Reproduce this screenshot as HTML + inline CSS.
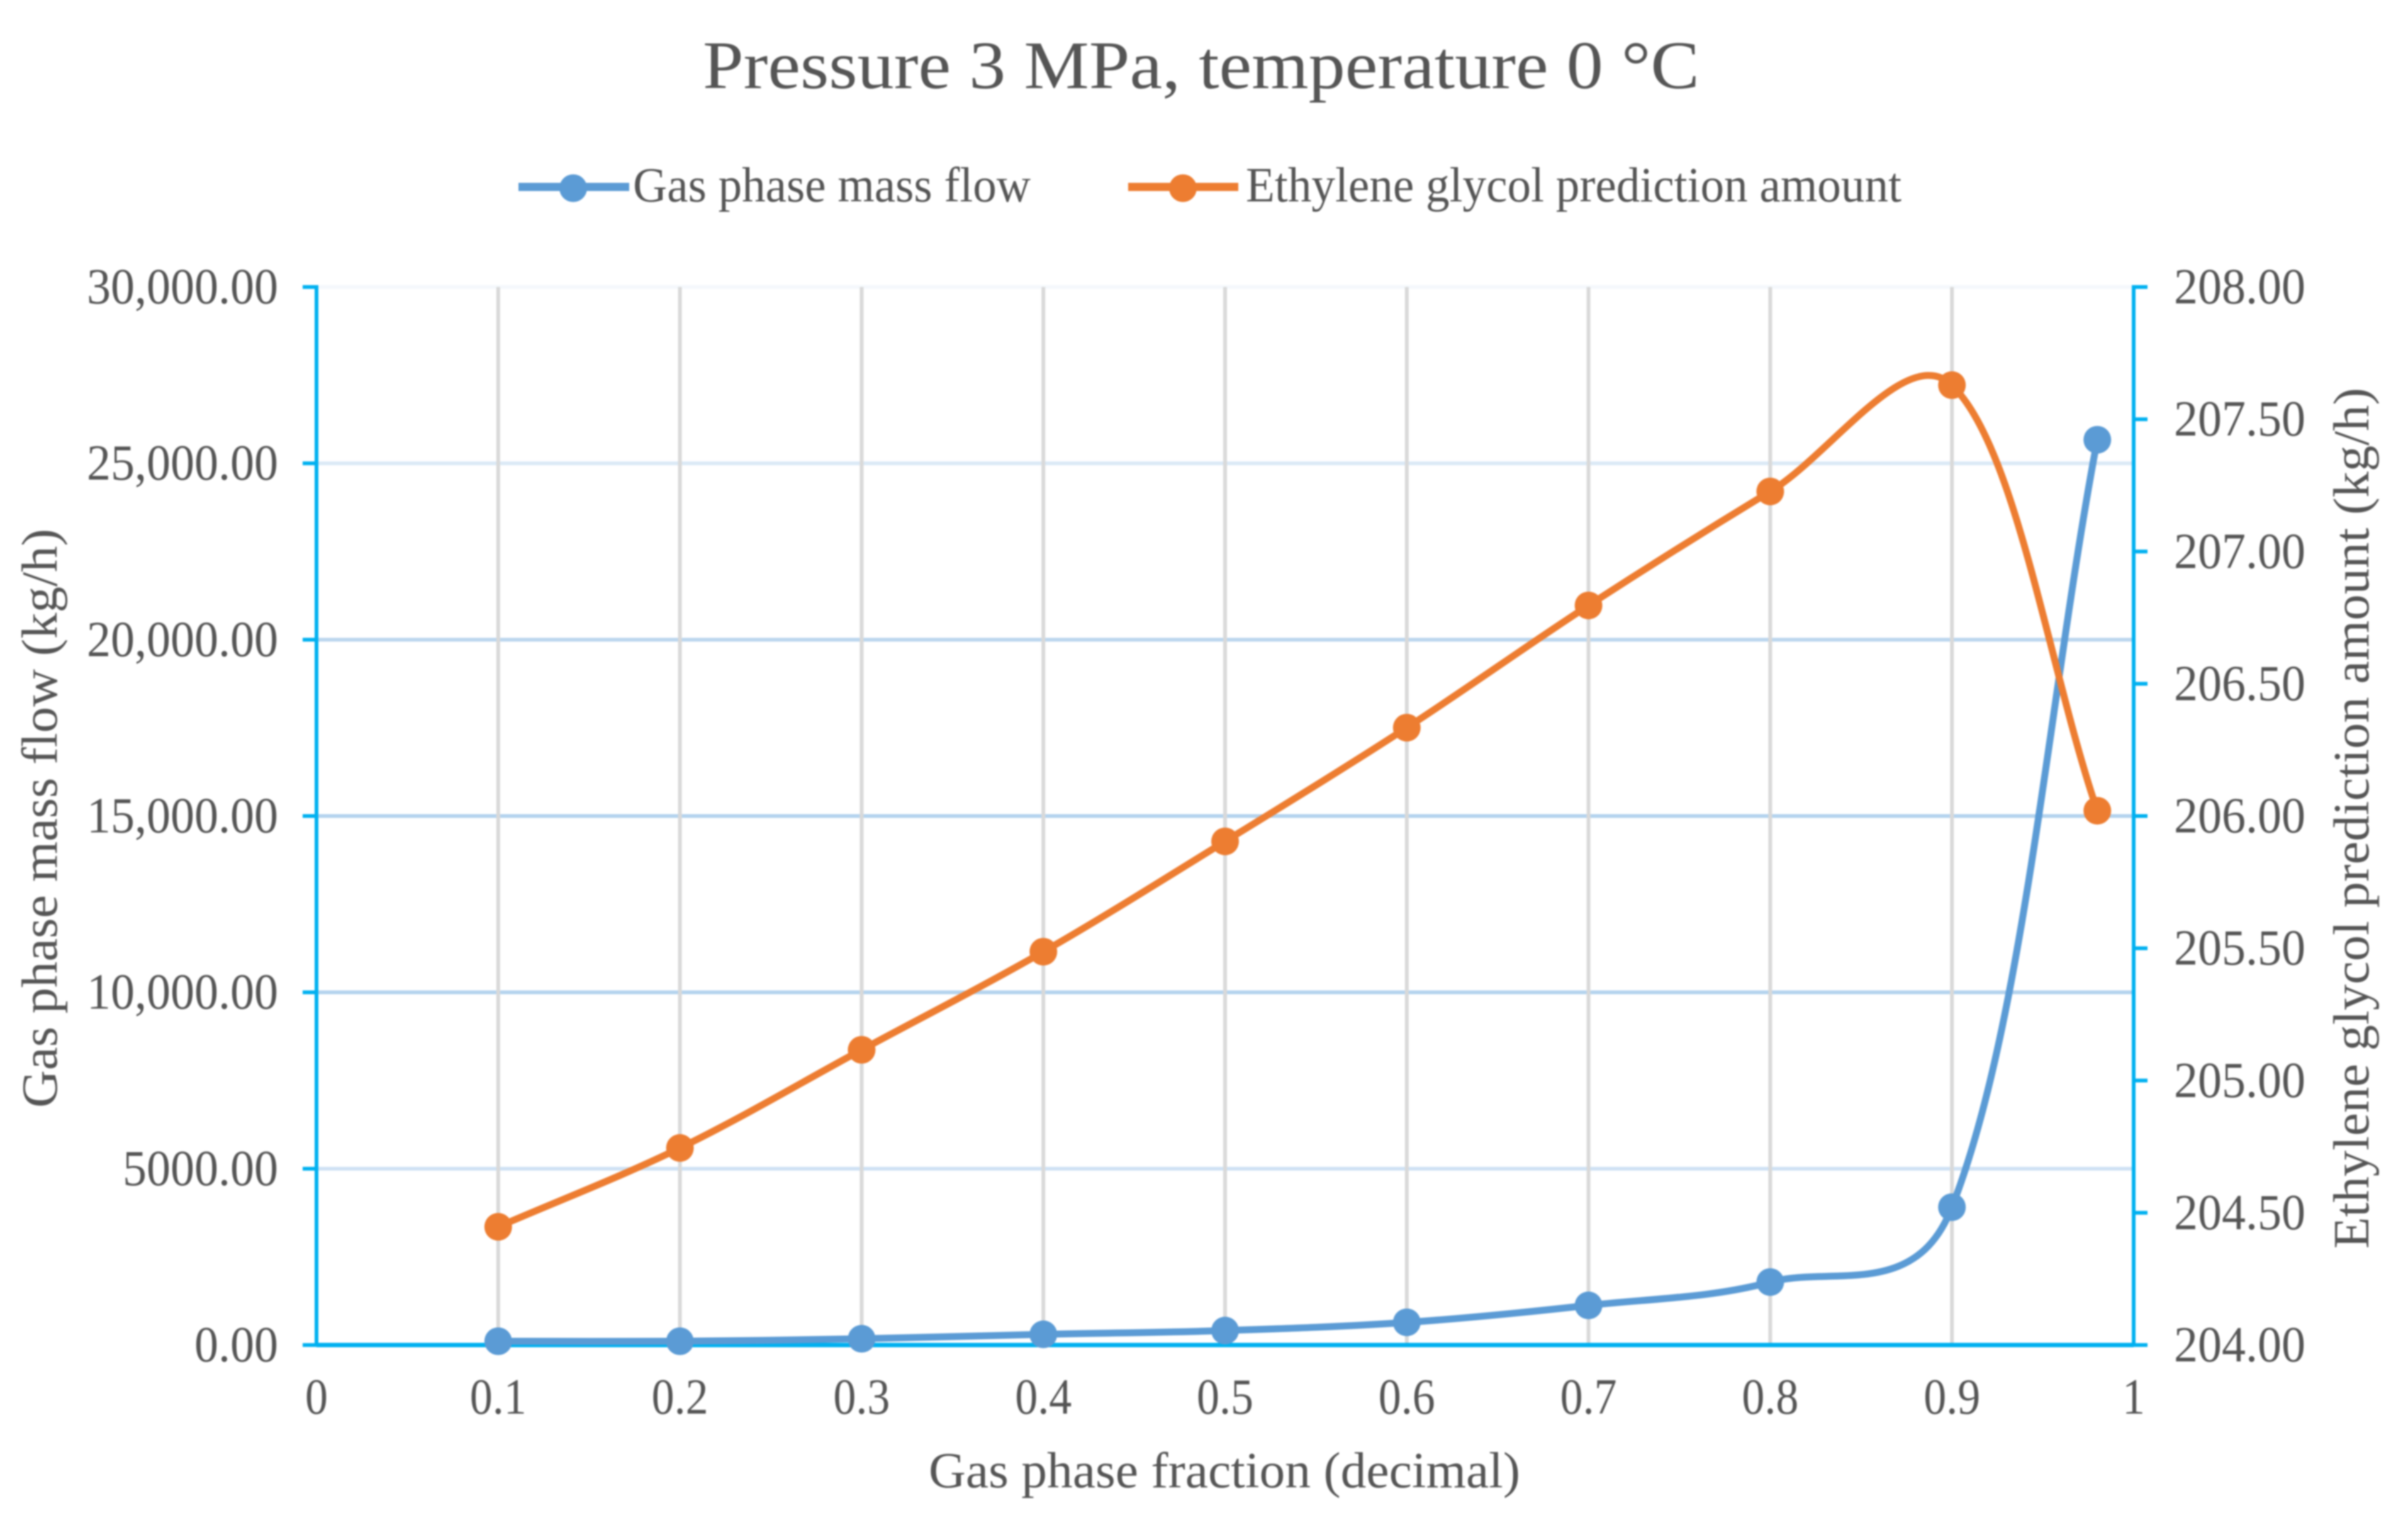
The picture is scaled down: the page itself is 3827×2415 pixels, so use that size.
<!DOCTYPE html>
<html lang="en">
<head>
<meta charset="utf-8">
<title>Pressure 3 MPa, temperature 0 °C</title>
<style>
  html, body { margin: 0; padding: 0; background: #ffffff; }
  svg { display: block; filter: blur(1.4px); }
  text { font-family: "Liberation Serif", serif; fill: #555555; }
</style>
</head>
<body>
<svg id="chart" xmlns="http://www.w3.org/2000/svg" width="3827" height="2415" viewBox="0 0 3827 2415">
  <rect x="0" y="0" width="3827" height="2415" fill="#ffffff"/>
  <text x="1117" y="140" font-size="108" textLength="1584" lengthAdjust="spacingAndGlyphs">Pressure 3 MPa, temperature 0 °C</text>

  <g>
    <g>
      <line x1="824" y1="297" x2="1000" y2="297" stroke="#5b9bd5" stroke-width="13"/>
      <circle cx="911" cy="299" r="22" fill="#5b9bd5"/>
      <text x="1006" y="320" font-size="78" textLength="632" lengthAdjust="spacingAndGlyphs">Gas phase mass flow</text>
    </g>
    <g>
      <line x1="1793" y1="297" x2="1968" y2="297" stroke="#ed7d31" stroke-width="13"/>
      <circle cx="1880" cy="299" r="22" fill="#ed7d31"/>
      <text x="1980" y="320" font-size="78" textLength="1042" lengthAdjust="spacingAndGlyphs">Ethylene glycol prediction amount</text>
    </g>
  </g>

  <g id="grid"></g>
  <g id="axes"></g>
  <g id="series"></g>
  <g id="labels"></g>

  <text x="1476" y="2363" font-size="80" textLength="940" lengthAdjust="spacingAndGlyphs">Gas phase fraction (decimal)</text>
  <text transform="rotate(-90 90 1760)" x="90" y="1760" font-size="80" textLength="920" lengthAdjust="spacingAndGlyphs">Gas phase mass flow (kg/h)</text>
  <text transform="rotate(-90 3764 1984)" x="3764" y="1984" font-size="80" textLength="1368" lengthAdjust="spacingAndGlyphs">Ethylene glycol prediction amount (kg/h)</text>
</svg>

<script>
const fractions = [0.1, 0.2, 0.3, 0.4, 0.5, 0.6, 0.7, 0.8, 0.9, 0.98];
const gasFlow = [107, 107, 178, 303, 410, 643, 1124, 1785, 3909, 25668];
const glycolAmount = [204.447, 204.745, 205.116, 205.487, 205.904, 206.334, 206.796, 207.227, 207.629, 206.02];

const xTicks = [0, 0.1, 0.2, 0.3, 0.4, 0.5, 0.6, 0.7, 0.8, 0.9, 1];
const xTickLabels = ["0", "0.1", "0.2", "0.3", "0.4", "0.5", "0.6", "0.7", "0.8", "0.9", "1"];
const leftTicks = [0, 5000, 10000, 15000, 20000, 25000, 30000];
const leftTickLabels = ["0.00", "5000.00", "10,000.00", "15,000.00", "20,000.00", "25,000.00", "30,000.00"];
const rightTicks = [204, 204.5, 205, 205.5, 206, 206.5, 207, 207.5, 208];
const rightTickLabels = ["204.00", "204.50", "205.00", "205.50", "206.00", "206.50", "207.00", "207.50", "208.00"];

const plot = { left: 503, right: 3391, top: 456, bottom: 2137 };
const NS = "http://www.w3.org/2000/svg";

function xPos(v) { return plot.left + (v - 0) / (1 - 0) * (plot.right - plot.left); }
function yLeft(v) { return plot.bottom - (v - 0) / (30000 - 0) * (plot.bottom - plot.top); }
function yRight(v) { return plot.bottom - (v - 204) / (208 - 204) * (plot.bottom - plot.top); }

function make(tag, parent, attrs) {
  const el = document.createElementNS(NS, tag);
  for (const k in attrs) el.setAttribute(k, attrs[k]);
  parent.appendChild(el);
  return el;
}

function squeeze(el, factor) {
  const w = el.getComputedTextLength();
  el.setAttribute("textLength", (w * factor).toFixed(1));
  el.setAttribute("lengthAdjust", "spacingAndGlyphs");
}

/* Smoothed path through points, spreading tangents by root segment length */
function smoothPath(pts) {
  const dist = (a, b) => Math.sqrt(Math.hypot(b[0] - a[0], b[1] - a[1]));
  const tangents = pts.map((p, i) => {
    const prev = pts[Math.max(i - 1, 0)], next = pts[Math.min(i + 1, pts.length - 1)];
    const d1 = i > 0 ? dist(prev, p) : 0, d2 = i < pts.length - 1 ? dist(p, next) : 0;
    return { vx: next[0] - prev[0], vy: next[1] - prev[1], before: d1 / (d1 + d2), after: d2 / (d1 + d2) };
  });
  let d = "M" + pts[0][0].toFixed(1) + " " + pts[0][1].toFixed(1);
  for (let i = 0; i < pts.length - 1; i++) {
    const a = pts[i], b = pts[i + 1], ta = tangents[i], tb = tangents[i + 1];
    const c1x = a[0] + ta.vx * ta.after / 3, c1y = a[1] + ta.vy * ta.after / 3;
    const c2x = b[0] - tb.vx * tb.before / 3, c2y = b[1] - tb.vy * tb.before / 3;
    d += " C" + c1x.toFixed(1) + " " + c1y.toFixed(1) + " " + c2x.toFixed(1) + " " + c2y.toFixed(1) + " " + b[0].toFixed(1) + " " + b[1].toFixed(1);
  }
  return d;
}

const gridG = document.getElementById("grid");
const axesG = document.getElementById("axes");
const seriesG = document.getElementById("series");
const labelsG = document.getElementById("labels");

function gridTint(i, n) {
  const fromTop = n - 1 - i;
  if (fromTop === 0) return "#f4f8fc";
  if (fromTop === 1) return "#dbe9f6";
  if (fromTop === 2) return "#bbd6ee";
  if (i === 1) return "#cfe2f4";
  return "#b4d3ee";
}

/* horizontal gridlines and left ticks */
leftTicks.forEach((t, i) => {
  const y = yLeft(t);
  if (i > 0) {
    const g = make("line", gridG, { x1: plot.left, x2: plot.right, y1: y, y2: y, stroke: gridTint(i, leftTicks.length), "stroke-width": 6 });
    
    
  }
  const tick = make("line", axesG, { x1: plot.left - 22, x2: plot.left, y1: y, y2: y, stroke: "#00b0f0", "stroke-width": 6 });
  
  
  const lab = make("text", labelsG, { x: 442, y: y + 26, "font-size": 80, "text-anchor": "end" });
  lab.textContent = leftTickLabels[i];
  
  
  squeeze(lab, 0.95);
});

/* vertical gridlines and x labels */
xTicks.forEach((t, i) => {
  const x = xPos(t);
  if (t > 0 && t < 1) {
    const g = make("line", gridG, { x1: x, x2: x, y1: plot.top, y2: plot.bottom, stroke: "#d9d9d9", "stroke-width": 6 });
    
    
  }
  const lab = make("text", labelsG, { x: x, y: 2246, "font-size": 80, "text-anchor": "middle" });
  lab.textContent = xTickLabels[i];
  
  
  squeeze(lab, 0.9);
});

/* right ticks */
rightTicks.forEach((t, i) => {
  const y = yRight(t);
  const tick = make("line", axesG, { x1: plot.right, x2: plot.right + 22, y1: y, y2: y, stroke: "#00b0f0", "stroke-width": 6 });
  
  
  const lab = make("text", labelsG, { x: 3455, y: y + 26, "font-size": 80 });
  lab.textContent = rightTickLabels[i];
  
  
  squeeze(lab, 0.95);
});

/* axis lines */
const leftAxis = make("line", axesG, { x1: plot.left, x2: plot.left, y1: plot.top - 3, y2: plot.bottom, stroke: "#00b0f0", "stroke-width": 6 });


const rightAxis = make("line", axesG, { x1: plot.right, x2: plot.right, y1: plot.top - 3, y2: plot.bottom, stroke: "#00b0f0", "stroke-width": 6 });


const bottomAxis = make("line", axesG, { x1: plot.left, x2: plot.right, y1: plot.bottom, y2: plot.bottom, stroke: "#00b0f0", "stroke-width": 7 });



/* series */
const gasPts = fractions.map((f, i) => [xPos(f), yLeft(gasFlow[i])]);
const gasLine = make("path", seriesG, { d: smoothPath(gasPts), fill: "none", stroke: "#5b9bd5", "stroke-width": 11, "stroke-linecap": "round" });


gasPts.forEach((p) => {
  const m = make("circle", seriesG, { cx: p[0], cy: p[1], r: 22, fill: "#5b9bd5" });
  
  
});

const glycolPts = fractions.map((f, i) => [xPos(f), yRight(glycolAmount[i])]);
const glycolLine = make("path", seriesG, { d: smoothPath(glycolPts), fill: "none", stroke: "#ed7d31", "stroke-width": 11, "stroke-linecap": "round" });


glycolPts.forEach((p) => {
  const m = make("circle", seriesG, { cx: p[0], cy: p[1], r: 22, fill: "#ed7d31" });
  
  
});
</script>
</body>
</html>
